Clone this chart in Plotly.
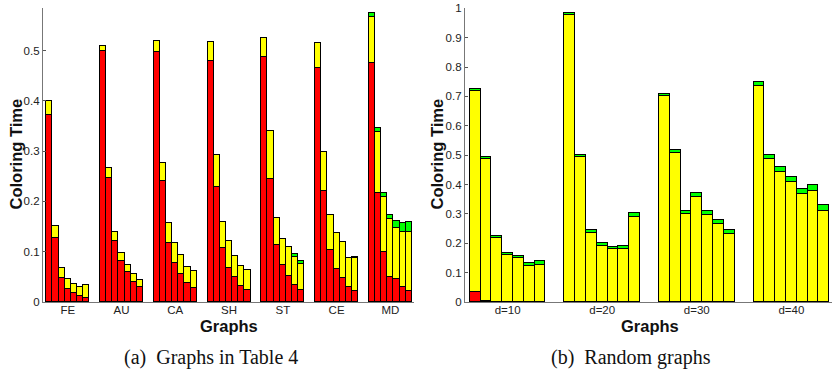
import plotly.graph_objects as go

# ---------------- data ----------------
groups_a = ["FE", "AU", "CA", "SH", "ST", "CE", "MD"]
# stacked tops, per group, 7 bars each
red_a = [
    [0.371, 0.127, 0.048, 0.026, 0.018, 0.011, 0.007],
    [0.499, 0.246, 0.121, 0.080, 0.060, 0.039, 0.029],
    [0.497, 0.241, 0.117, 0.077, 0.056, 0.037, 0.027],
    [0.479, 0.228, 0.107, 0.068, 0.050, 0.031, 0.023],
    [0.487, 0.244, 0.113, 0.072, 0.052, 0.033, 0.023],
    [0.465, 0.220, 0.103, 0.065, 0.048, 0.030, 0.021],
    [0.475, 0.217, 0.098, 0.049, 0.046, 0.029, 0.021],
]
yellow_top_a = [
    [0.400, 0.151, 0.068, 0.045, 0.036, 0.030, 0.033],
    [0.508, 0.265, 0.139, 0.096, 0.073, 0.056, 0.044],
    [0.519, 0.276, 0.156, 0.116, 0.093, 0.070, 0.062],
    [0.517, 0.292, 0.159, 0.120, 0.091, 0.071, 0.063],
    [0.525, 0.340, 0.166, 0.125, 0.108, 0.089, 0.075],
    [0.514, 0.297, 0.173, 0.137, 0.118, 0.086, 0.086],
    [0.566, 0.337, 0.209, 0.165, 0.146, 0.138, 0.138],
]
total_a = [
    [0.400, 0.151, 0.068, 0.045, 0.036, 0.030, 0.033],
    [0.508, 0.265, 0.139, 0.096, 0.073, 0.056, 0.044],
    [0.519, 0.276, 0.156, 0.116, 0.093, 0.070, 0.062],
    [0.517, 0.292, 0.159, 0.120, 0.091, 0.071, 0.063],
    [0.525, 0.340, 0.166, 0.125, 0.108, 0.094, 0.081],
    [0.514, 0.297, 0.173, 0.137, 0.118, 0.086, 0.088],
    [0.574, 0.345, 0.216, 0.173, 0.161, 0.156, 0.159],
]

groups_b = ["d=10", "d=20", "d=30", "d=40"]
red_b = [
    [0.034, 0.003, 0.0, 0.0, 0.0, 0.0, 0.0],
    [0.0, 0.0, 0.0, 0.0, 0.0, 0.0, 0.0],
    [0.0, 0.0, 0.0, 0.0, 0.0, 0.0, 0.0],
    [0.0, 0.0, 0.0, 0.0, 0.0, 0.0, 0.0],
]
yellow_top_b = [
    [0.718, 0.485, 0.218, 0.158, 0.148, 0.123, 0.124],
    [0.975, 0.491, 0.233, 0.190, 0.178, 0.178, 0.290],
    [0.699, 0.506, 0.299, 0.355, 0.294, 0.264, 0.230],
    [0.733, 0.486, 0.443, 0.409, 0.368, 0.377, 0.310],
]
total_b = [
    [0.724, 0.494, 0.224, 0.165, 0.157, 0.132, 0.1375],
    [0.983, 0.500, 0.244, 0.199, 0.1875, 0.191, 0.303],
    [0.708, 0.517, 0.310, 0.369, 0.308, 0.277, 0.245],
    [0.747, 0.499, 0.460, 0.424, 0.385, 0.397, 0.330],
]

yticks_a = [0, 0.1, 0.2, 0.3, 0.4, 0.5]
yticks_b = [0, 0.1, 0.2, 0.3, 0.4, 0.5, 0.6, 0.7, 0.8, 0.9, 1.0]

RED, YEL, GRN = "#ff0000", "#ffff00", "#00ff00"
GROUP_W = 0.8
FONT = "Liberation Sans, Arial, Helvetica, sans-serif"


def add_panel(fig, reds, ytops, totals, xa, ya):
    xs, r, y, g = [], [], [], []
    for gi in range(len(reds)):
        n = len(reds[gi])
        w = GROUP_W / n
        for j in range(n):
            xs.append(gi + (j - (n - 1) / 2) * w)
            r.append(reds[gi][j])
            y.append(ytops[gi][j] - reds[gi][j])
            g.append(totals[gi][j] - ytops[gi][j])
    w = GROUP_W / len(reds[0])
    for vals, col in ((r, RED), (y, YEL), (g, GRN)):
        fig.add_trace(go.Bar(
            x=xs, y=vals, width=w, marker_color=col,
            marker_line_color="#000000", marker_line_width=1.1,
            xaxis=xa, yaxis=ya, showlegend=False,
        ))


fig = go.Figure()
add_panel(fig, red_a, yellow_top_a, total_a, "x", "y")
add_panel(fig, red_b, yellow_top_b, total_b, "x2", "y2")

ydom = [1 - 302 / 373, 1 - 8.3 / 373]
axis_common = dict(showline=True, linecolor="#777777", linewidth=1.3,
                   showgrid=False, zeroline=False, automargin=False,
                   tickfont=dict(family=FONT, size=11.5, color="#222222"))

fig.update_layout(
    template="none",
    width=832, height=373,
    margin=dict(l=0, r=0, t=0, b=0, autoexpand=False),
    paper_bgcolor="white", plot_bgcolor="white",
    barmode="stack", bargap=0,
    xaxis=dict(domain=[43 / 832, 414 / 832], range=[-0.46, 6.44],
               tickvals=list(range(len(groups_a))), ticktext=groups_a,
               ticks="", ticklabelstandoff=-3, anchor="y", **axis_common),
    yaxis=dict(domain=ydom, range=[0, 0.584], tickvals=yticks_a,
               ticktext=[f"{v:g}" for v in yticks_a],
               ticks="inside", ticklen=3, tickcolor="#555555",
               anchor="x", **axis_common),
    xaxis2=dict(domain=[465 / 832, 1.0], range=[-0.451, 3.43],
                tickvals=list(range(len(groups_b))), ticktext=groups_b,
                ticks="", ticklabelstandoff=-3, anchor="y2", **axis_common),
    yaxis2=dict(domain=ydom, range=[0, 1.0], tickvals=yticks_b,
                ticktext=[f"{v:g}" for v in yticks_b],
                ticks="inside", ticklen=3, tickcolor="#555555",
                anchor="x2", **axis_common),
)

ann_bold = dict(family=FONT, size=16.5, color="#111111")
serif = dict(family="Liberation Serif, Times New Roman, serif", size=20, color="#111111")
annots = [
    dict(text="<b>Coloring Time</b>", x=15.5, y=154, textangle=-90, font=ann_bold),
    dict(text="<b>Coloring Time</b>", x=436.5, y=154, textangle=-90, font=ann_bold),
    dict(text="<b>Graphs</b>", x=228.5, y=326, font=ann_bold),
    dict(text="<b>Graphs</b>", x=650, y=326, font=ann_bold),
    dict(text="(a)  Graphs in Table 4", x=210.5, y=357, font=serif),
    dict(text="(b)  Random graphs", x=631, y=357, font=serif),
]
for a in annots:
    fig.add_annotation(text=a["text"], x=a["x"] / 832, y=1 - a["y"] / 373,
                       xref="paper", yref="paper", showarrow=False,
                       xanchor="center", yanchor="middle",
                       textangle=a.get("textangle", 0), font=a["font"])

fig.write_html(
    "out.html",
    config={"displayModeBar": False},
    post_script="document.body.style.margin='0';document.body.style.overflow='hidden';",
)
